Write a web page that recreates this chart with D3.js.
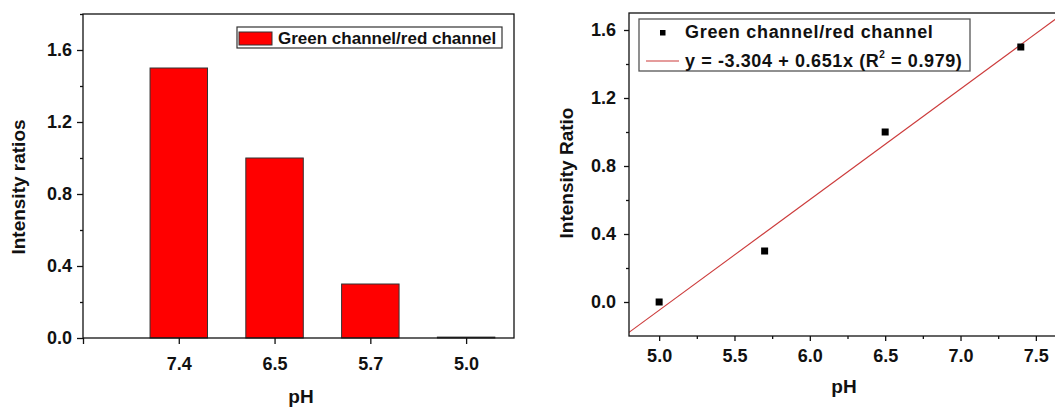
<!DOCTYPE html>
<html>
<head>
<meta charset="utf-8">
<script src="https://cdn.jsdelivr.net/npm/d3@7"></script>
<style>
  body { margin: 0; background: #fff; }
  svg { display: block; font-family: "Liberation Sans", Arial, sans-serif; font-weight: bold; }
</style>
</head>
<body>
<script>
// left chart: bar per pH
const barLabels = ["7.4", "6.5", "5.7", "5.0"];
const barRatios = [1.5, 1.0, 0.3, 0.005];

// right chart: scatter + linear fit
const phValues = [5.0, 5.7, 6.5, 7.4];
const ratioValues = [0.0, 0.3, 1.0, 1.5];

const yMajor = [0, 0.4, 0.8, 1.2, 1.6];
const yMinor = [0.2, 0.6, 1.0, 1.4];
const yMinorLeft = [0.2, 0.6, 1.0, 1.4, 1.8];
const xMajorRight = [5.0, 5.5, 6.0, 6.5, 7.0, 7.5];
const xMinorRight = [5.25, 5.75, 6.25, 6.75, 7.25];

const legendLabel = "Green channel/red channel";

const W = 1055, H = 411;
const ink = "#111";

// plain hyphen for negatives, like the original
const locale = d3.formatLocale({ decimal: ".", thousands: ",", grouping: [3], currency: ["", ""], minus: "-" });

const svg = d3.select("body").append("svg")
  .attr("width", W)
  .attr("height", H);

function styleAxis(g, size) {
  g.select(".domain").remove();
  g.selectAll(".tick line").attr("stroke", ink).attr("stroke-width", 1.3);
  g.selectAll(".tick text").attr("fill", ink).attr("font-size", size).attr("font-weight", "bold");
}

// ---------- left: bar chart ----------
{
  const left = 83, top = 14, right = 514, bottom = 338;
  const x = d3.scaleLinear().domain([0, 4.5]).range([left, right]);
  const y = d3.scaleLinear().domain([0, 1.8]).range([bottom, top]);
  const g = svg.append("g");

  g.append("g")
    .selectAll("rect")
    .data(barRatios)
    .join("rect")
    .attr("x", (d, i) => x(i + 1 - 0.3))
    .attr("width", x(0.6) - x(0))
    .attr("y", d => y(d))
    .attr("height", d => y(0) - y(d))
    .attr("fill", "#ff0000")
    .attr("stroke", "#333")
    .attr("stroke-width", 1);

  // y axis
  g.append("g")
    .attr("transform", `translate(${left},0)`)
    .call(d3.axisLeft(y).tickValues(yMajor).tickFormat(d3.format(".1f")).tickSize(6).tickPadding(5))
    .call(a => styleAxis(a, 18));
  g.append("g")
    .attr("transform", `translate(${left},0)`)
    .call(d3.axisLeft(y).tickValues(yMinorLeft).tickFormat("").tickSize(3))
    .call(a => styleAxis(a, 18));

  // x axis (categories at 1..4, extra tick at the origin)
  g.append("g")
    .attr("transform", `translate(0,${bottom})`)
    .call(d3.axisBottom(x).tickValues([0, 1, 2, 3, 4])
      .tickFormat(d => d === 0 ? "" : barLabels[d - 1]).tickSize(6).tickPadding(13))
    .call(a => styleAxis(a, 18));

  // frame
  g.append("rect")
    .attr("x", left).attr("y", top)
    .attr("width", right - left).attr("height", bottom - top)
    .attr("fill", "none").attr("stroke", ink).attr("stroke-width", 1.3);

  g.append("text")
    .attr("transform", `translate(25,187) rotate(-90)`)
    .attr("text-anchor", "middle")
    .attr("font-size", 19).attr("fill", ink)
    .text("Intensity ratios");

  g.append("text")
    .attr("x", 301).attr("y", 403)
    .attr("text-anchor", "middle")
    .attr("font-size", 19).attr("fill", ink)
    .text("pH");

  // legend
  const lg = g.append("g").attr("transform", "translate(237,27)");
  lg.append("rect").attr("width", 265).attr("height", 21)
    .attr("fill", "#fff").attr("stroke", "#333").attr("stroke-width", 1.2);
  lg.append("rect").attr("x", 2).attr("y", 5).attr("width", 33).attr("height", 13)
    .attr("fill", "#ff0000").attr("stroke", "#333").attr("stroke-width", 1);
  lg.append("text").attr("x", 41).attr("y", 16.5)
    .attr("font-size", 17).attr("fill", ink)
    .text(legendLabel);
}

// ---------- right: scatter with linear fit ----------
{
  const left = 629, top = 13, right = 1066, bottom = 336;
  const x = d3.scaleLinear().domain([4.8, 7.7]).range([left, right]);
  const y = d3.scaleLinear().domain([-0.2, 1.7]).range([bottom, top]);
  const g = svg.append("g");

  // least squares fit, adjusted R^2 as the fitting software reports it
  const n = phValues.length;
  const mx = d3.mean(phValues), my = d3.mean(ratioValues);
  const sxy = d3.sum(phValues, (v, i) => (v - mx) * (ratioValues[i] - my));
  const sxx = d3.sum(phValues, v => (v - mx) ** 2);
  const slope = sxy / sxx;
  const intercept = my - slope * mx;
  const ssTot = d3.sum(ratioValues, v => (v - my) ** 2);
  const ssRes = d3.sum(ratioValues, (v, i) => (v - (intercept + slope * phValues[i])) ** 2);
  const r2 = 1 - (ssRes / ssTot) * (n - 1) / (n - 2);

  svg.append("clipPath").attr("id", "plotClip")
    .append("rect").attr("x", left).attr("y", top)
    .attr("width", right - left).attr("height", bottom - top);

  g.append("line")
    .attr("clip-path", "url(#plotClip)")
    .attr("x1", x(4.8)).attr("y1", y(intercept + slope * 4.8))
    .attr("x2", x(7.7)).attr("y2", y(intercept + slope * 7.7))
    .attr("stroke", "#cc3b3b").attr("stroke-width", 1.1);

  g.append("g")
    .selectAll("rect")
    .data(phValues)
    .join("rect")
    .attr("x", d => x(d) - 3.5)
    .attr("y", (d, i) => y(ratioValues[i]) - 3.5)
    .attr("width", 7).attr("height", 7)
    .attr("fill", "#000");

  g.append("g")
    .attr("transform", `translate(${left},0)`)
    .call(d3.axisLeft(y).tickValues(yMajor).tickFormat(d3.format(".1f")).tickSize(5).tickPadding(8))
    .call(a => styleAxis(a, 18));
  g.append("g")
    .attr("transform", `translate(${left},0)`)
    .call(d3.axisLeft(y).tickValues(yMinor).tickFormat("").tickSize(3))
    .call(a => styleAxis(a, 18));

  g.append("g")
    .attr("transform", `translate(0,${bottom})`)
    .call(d3.axisBottom(x).tickValues(xMajorRight).tickFormat(d3.format(".1f")).tickSize(5).tickPadding(8))
    .call(a => styleAxis(a, 18));
  g.append("g")
    .attr("transform", `translate(0,${bottom})`)
    .call(d3.axisBottom(x).tickValues(xMinorRight).tickFormat("").tickSize(3))
    .call(a => styleAxis(a, 18));

  g.append("rect")
    .attr("x", left).attr("y", top)
    .attr("width", right - left).attr("height", bottom - top)
    .attr("fill", "none").attr("stroke", ink).attr("stroke-width", 1.3);

  g.append("text")
    .attr("transform", `translate(573,173) rotate(-90)`)
    .attr("text-anchor", "middle")
    .attr("font-size", 19).attr("fill", ink)
    .text("Intensity Ratio");

  g.append("text")
    .attr("x", 844).attr("y", 393)
    .attr("text-anchor", "middle")
    .attr("font-size", 19).attr("fill", ink)
    .text("pH");

  // legend
  const lg = g.append("g").attr("transform", "translate(639,19)");
  lg.append("rect").attr("width", 331).attr("height", 52)
    .attr("fill", "#fff").attr("stroke", "#555").attr("stroke-width", 1.3);
  lg.append("rect").attr("x", 21).attr("y", 11).attr("width", 5.5).attr("height", 5.5).attr("fill", "#000");
  lg.append("text").attr("x", 46).attr("y", 19)
    .attr("font-size", 18).attr("letter-spacing", 0.7).attr("fill", ink)
    .text(legendLabel);
  lg.append("line").attr("x1", 7).attr("x2", 40).attr("y1", 42).attr("y2", 42)
    .attr("stroke", "#cc3b3b").attr("stroke-width", 1.1);
  const fmt = locale.format(".3f");
  const eq = lg.append("text").attr("x", 46).attr("y", 48)
    .attr("font-size", 18).attr("letter-spacing", 0.6).attr("fill", ink);
  eq.append("tspan").text(`y = ${fmt(intercept)} + ${fmt(slope)}x (R`);
  eq.append("tspan").attr("dy", -9).attr("font-size", 10).text("2");
  eq.append("tspan").attr("dy", 9).text(` = ${fmt(r2)})`);
}
</script>
</body>
</html>
